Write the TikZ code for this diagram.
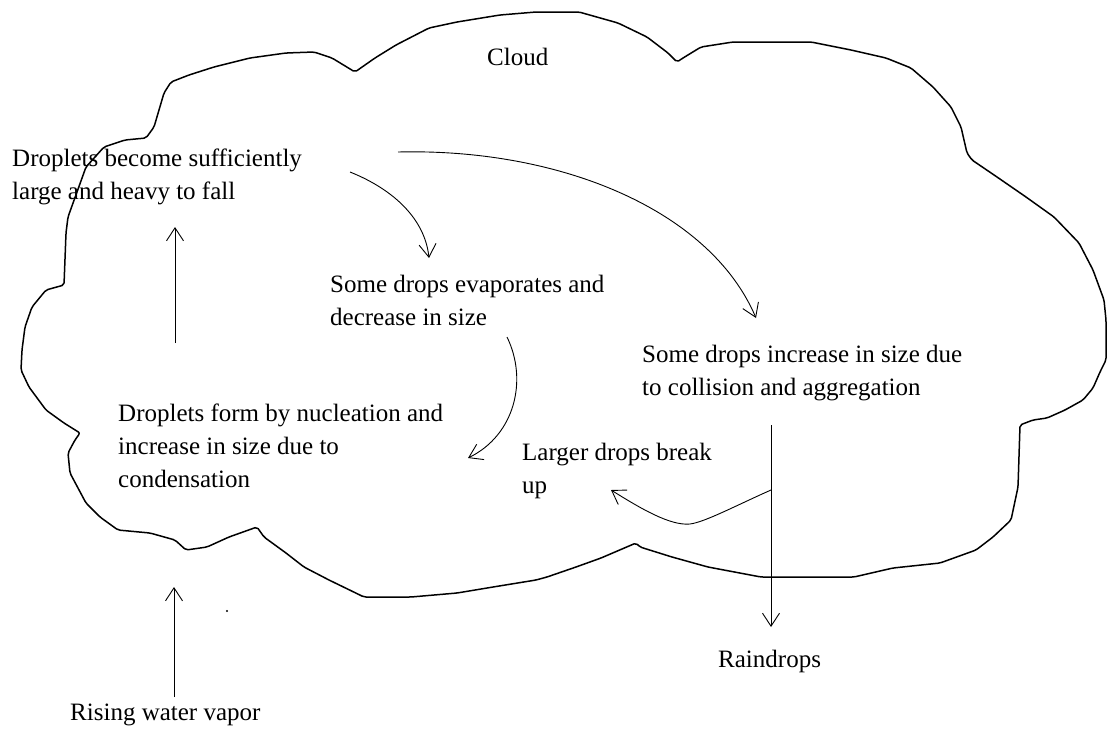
\documentclass[tikz,border=0pt]{standalone}
\usepackage{fontspec}
\setmainfont{Liberation Serif}
\usetikzlibrary{arrows.meta}
\begin{document}
\begin{tikzpicture}[x=1pt,y=-1pt,
  lbl/.style={anchor=base west, inner sep=0pt, align=left, font=\fontsize{25}{33}\selectfont},
  cloudline/.style={line width=1.5pt, line join=round, rounded corners=2pt},
  arr/.style={line width=0.9pt, -{Straight Barb[length=13pt,width=17pt]}}]
\useasboundingbox[fill=white] (0,0) rectangle (1107,729);

% cloud outline
\draw[cloudline] (21,370) -- (22,350) -- (25,327) -- (32,307) -- (46,290) -- (64,285)
  -- (66,233) -- (68,217) -- (86,167) -- (104,147) -- (125,140) -- (146,138)
  -- (154,127) -- (164,93) -- (171,82) -- (189,75) -- (214,67) -- (250,58)
  -- (286,53) -- (314,52) -- (332,58) -- (355,72) -- (375,58) -- (396,45)
  -- (429,28) -- (457,22) -- (500,15) -- (536,12) -- (579,12) -- (618,23)
  -- (647,37) -- (668,53) -- (677,62) -- (683,58) -- (701,47) -- (733,42)
  -- (811,42) -- (851,50) -- (886,58) -- (911,68) -- (933,87) -- (951,107)
  -- (961,127) -- (967,153) -- (972,160) -- (997,177) -- (1026,197) -- (1054,217)
  -- (1079,243) -- (1093,270) -- (1104,300) -- (1106,320) -- (1106,360)
  -- (1100,372) -- (1093,388) -- (1083,400) -- (1065,410) -- (1047,418)
  -- (1033,420) -- (1020,425) -- (1018,487) -- (1011,520) -- (993,537)
  -- (976,550) -- (940,563) -- (893,568) -- (854,577) -- (761,577) -- (708,567)
  -- (672,557) -- (640,547) -- (636,543) -- (601,558) -- (576,567) -- (547,577)
  -- (536,580) -- (493,587) -- (457,593) -- (411,597) -- (364,597) -- (329,580)
  -- (304,567) -- (286,553) -- (264,537) -- (257,527) -- (229,537) -- (207,547)
  -- (186,550) -- (175,540) -- (150,533) -- (118,530) -- (100,517) -- (86,503)
  -- (70,473) -- (68,453) -- (75,440) -- (80,433) -- (64,423) -- (46,410)
  -- (29,387) -- cycle;

% labels (anchored at the baseline of their last line)
\node[lbl] (cloud) at (487,65) {Cloud};
\node[lbl] (fall) at (12,199) {Droplets become sufficiently\\large and heavy to fall};
\node[lbl] (evap) at (330,325) {Some drops evaporates and\\decrease in size};
\node[lbl] (coll) at (642,395) {Some drops increase in size due\\to collision and aggregation};
\node[lbl] (nucl) at (118,487) {Droplets form by nucleation and\\increase in size due to\\condensation};
\node[lbl] (brk) at (522,493) {Larger drops break\\up};
\node[lbl] (rain) at (718,667) {Raindrops};
\node[lbl] (vapor) at (70,720) {Rising water vapor};

% arrow end points
\coordinate (upA) at (175,343);
\coordinate (upB) at (175,227);
\coordinate (vapA) at (174,697);
\coordinate (vapB) at (174,587);
\coordinate (evA) at (350,172);
\coordinate (evB) at (429,258);
\coordinate (coA) at (398,152);
\coordinate (coB) at (756,318);
\coordinate (nuA) at (507,337);
\coordinate (nuB) at (468,458);
\coordinate (raA) at (771,425);
\coordinate (raB) at (771,627);
\coordinate (brA) at (771,490);
\coordinate (brM) at (690,524);
\coordinate (brB) at (611,490);

% arrows
\draw[arr] (upA) -- (upB);
\draw[arr] (vapA) -- (vapB);
\draw[arr] (evA) .. controls (395,190) and (425,220) .. (evB);
\draw[arr] (coA) .. controls (560,148) and (710,210) .. (coB);
\draw[arr] (nuA) .. controls (528,380) and (515,435) .. (nuB);
\draw[arr] (raA) -- (raB);
\draw[arr] (brA) .. controls (735,506) and (705,522) .. (brM)
  .. controls (670,526) and (640,508) .. (brB);

% small dot
\fill (227,611) circle (1.1);
\end{tikzpicture}
\end{document}
